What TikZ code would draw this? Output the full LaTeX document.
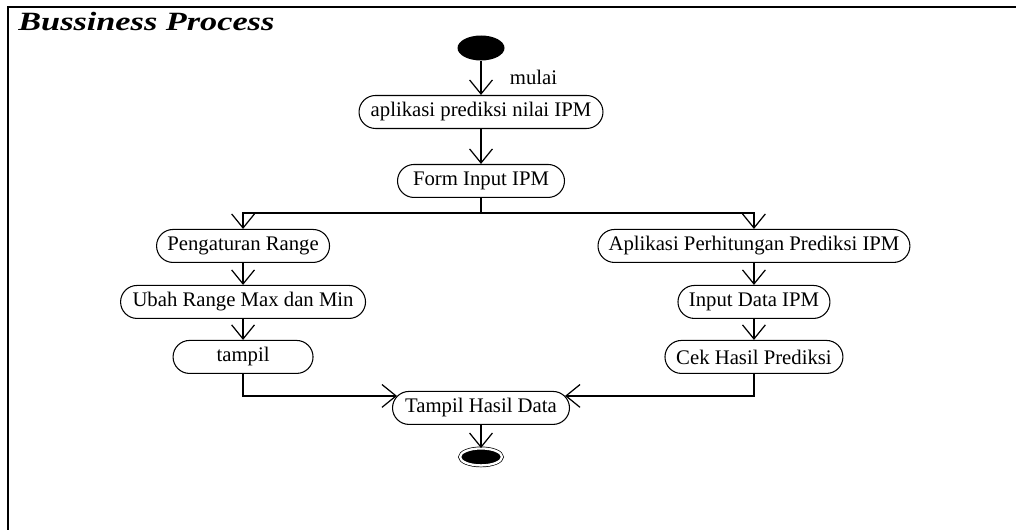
\documentclass[tikz,border=0pt]{standalone}
\usepackage{fontspec}
\usepackage{graphicx}
\setmainfont{Liberation Serif}
\usetikzlibrary{positioning, shapes.geometric, arrows.meta, calc}

\begin{document}
\begin{tikzpicture}[
    x=0.02cm, y=-0.02cm,
    on grid,
    auto,
    >={Straight Barb[length=8pt,width=13pt]},
    every node/.style={font=\fontsize{11.8}{13}\selectfont},
    activity/.style={rectangle, rounded corners=0.33cm, draw, line width=0.6pt, minimum height=0.66cm, inner xsep=6pt},
    startdot/.style={ellipse, fill=black, minimum width=0.94cm, minimum height=0.5cm},
    enddot/.style={ellipse, draw, fill=black, double, double distance=1.3pt, minimum width=0.84cm, minimum height=0.34cm},
    flow/.style={->, line width=0.7pt}
]
    \useasboundingbox (0,0) rectangle (1016,530);
    \draw[line width=1.2pt] (1016,7) -- (8,7) -- (8,530);
    \node[anchor=base west, inner sep=0pt, font=\fontsize{15}{18}\selectfont\bfseries\itshape] (title) at (18,31) {\scalebox{1.3}[1]{Bussiness Process}};

    % Activities
    \node[startdot] (start) at (481,48) {};
    \node[activity, minimum width=4.88cm, below=1.28cm of start] (aplikasi) {aplikasi prediksi nilai IPM};
    \node[activity, minimum width=3.34cm, below=1.38cm of aplikasi] (form) {Form Input IPM};
    \node[activity, minimum width=3.46cm, below left=1.3cm and 4.76cm of form] (atur) {Pengaturan Range};
    \node[activity, minimum width=4.9cm, below=1.12cm of atur] (ubah) {Ubah Range Max dan Min};
    \node[activity, minimum width=2.8cm, below=1.1cm of ubah] (tampil) {tampil};
    \node[activity, minimum width=6.16cm, below right=1.3cm and 5.46cm of form] (hitung) {Aplikasi Perhitungan Prediksi IPM};
    \node[activity, minimum width=3.04cm, below=1.12cm of hitung] (input) {Input Data IPM};
    \node[activity, minimum width=3.56cm, below=1.1cm of input] (cek) {Cek Hasil Prediksi};
    \node[activity, minimum width=3.54cm, below=4.54cm of form] (hasil) {Tampil Hasil Data};
    \node[enddot, below=0.98cm of hasil] (stop) {};
    \coordinate (fork) at ($(form.south)+(0,-0.3cm)$);

    % Flows
    \path[flow]
        (start) edge node[right=0.45cm] {mulai} (aplikasi)
        (aplikasi) edge (form)
        (atur) edge (ubah)
        (ubah) edge (tampil)
        (hitung) edge (input)
        (input) edge (cek)
        (hasil) edge (stop);
    \draw[flow, -] (form) -- (fork);
    \draw[flow] (fork) -| (atur);
    \draw[flow] (fork) -| (hitung);
    \draw[flow] (tampil) |- ($(hasil.west)+(0.1cm,0.24cm)$);
    \draw[flow] (cek) |- ($(hasil.east)+(-0.1cm,0.24cm)$);
\end{tikzpicture}
\end{document}
